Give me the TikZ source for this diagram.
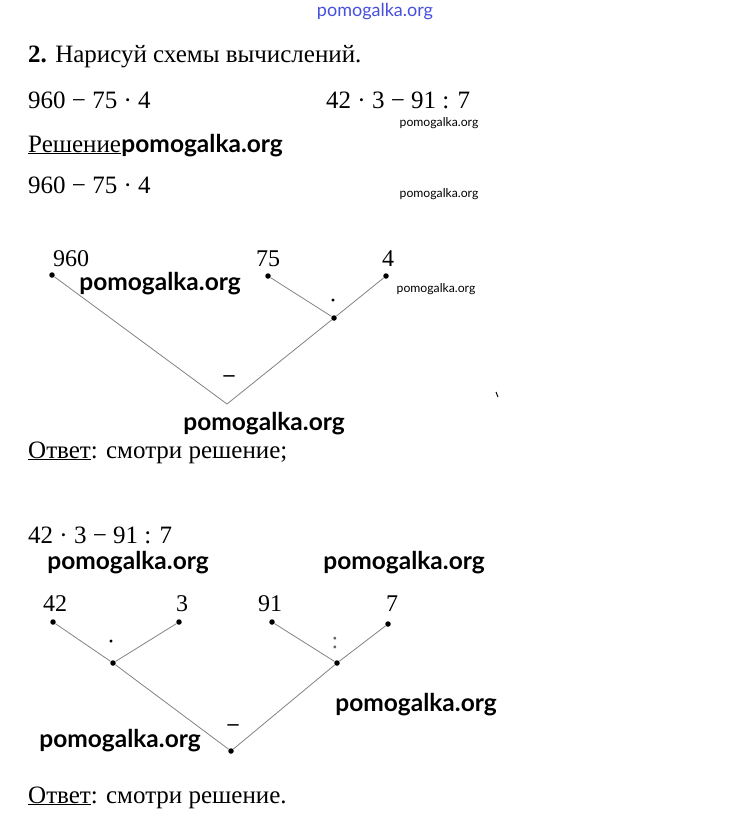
\documentclass[tikz,border=0pt]{standalone}
\usepackage{fontspec}
\setmainfont{Liberation Serif}
\newfontfamily\wmfont{Lato}
\usepackage{xcolor}
\usepackage{tikz}
\usetikzlibrary{positioning}

\definecolor{wmblue}{RGB}{70,80,220}
\definecolor{linegray}{RGB}{130,130,130}

\begin{document}
\begin{tikzpicture}[
    x=1pt, y=-1pt,
    txt/.style={anchor=base west, inner sep=0pt, font=\fontsize{25}{28}\selectfont},
    num/.style={inner sep=0pt, font=\fontsize{24}{26}\selectfont},
    dot/.style={circle, fill=black, inner sep=0pt, minimum size=5.5pt},
    op/.style={inner sep=0pt, font=\fontsize{24}{26}\selectfont},
    minus/.style={inner sep=0pt, font=\bfseries\fontsize{22}{26}\selectfont},
    edge/.style={draw=linegray, line width=0.8pt},
    wmbig/.style={inner sep=0pt, font=\wmfont\bfseries\fontsize{24.5}{27}\selectfont},
    wmsmall/.style={inner sep=0pt, font=\wmfont\fontsize{12.2}{14}\selectfont}
]
\useasboundingbox (0,0) rectangle (749,825);

% header
\node (site) [inner sep=0pt, text=wmblue, font=\wmfont\fontsize{18}{20}\selectfont] at (375,12) {pomogalka.org};
\node (task) [txt] at (28,62) {\textbf{2.} Нарисуй схемы вычислений.};
\node (expr1) [txt] at (28,108) {960 − 75 · 4};
\node (expr2) [txt] at (326,108) {42 · 3 − 91 : 7};
\node (wm1) [wmsmall] at (439,123) {pomogalka.org};
\node (sol) [txt] at (28,152) {\underline{Решение}};
\node (wm2) [wmbig, anchor=base west] at (sol.base east) {pomogalka.org};
\node (expr3) [txt] at (28,193) {960 − 75 · 4};
\node (wm3) [wmsmall] at (439,194) {pomogalka.org};

% first scheme
\node (a960) [dot] at (52,275) {};
\node (a75) [dot] at (268,276) {};
\node (a4) [dot] at (386,276) {};
\node (amul) [dot] at (334,318) {};
\coordinate (amin) at (227,404);

\node (l960) [num] at (71,259) {960};
\node (l75) [num] at (268,259) {75};
\node (l4) [num] at (388,259) {4};
\node (lamul) [op] at (333,304) {·};
\node (lamin) [minus] at (229,379) {–};

\draw [edge] (a960) -- (amin);
\draw [edge] (amin) -- (amul);
\draw [edge] (a75) -- (amul);
\draw [edge] (a4) -- (amul);

\node (wm4) [wmbig] at (160,284) {pomogalka.org};
\node (wm5) [wmsmall] at (436,289) {pomogalka.org};
\node (wm6) [wmbig] at (264,424) {pomogalka.org};
\draw [line width=1pt] (496,392) -- (498,397);

\node (ans1) [txt] at (28,458) {\underline{Ответ}: смотри решение;};

% second scheme
\node (expr4) [txt] at (28,543) {42 · 3 − 91 : 7};
\node (wm7) [wmbig] at (128,563) {pomogalka.org};
\node (wm8) [wmbig] at (404,563) {pomogalka.org};

\node (b42) [dot] at (53,622) {};
\node (b3) [dot] at (179,622) {};
\node (b91) [dot] at (272,622) {};
\node (b7) [dot] at (388,624) {};
\node (bmul) [dot] at (113,663) {};
\node (bdiv) [dot] at (337,663) {};
\node (bmin) [dot] at (231,751) {};

\node (l42) [num] at (55,604) {42};
\node (l3) [num] at (182,604) {3};
\node (l91) [num] at (270,604) {91};
\node (l7) [num] at (392,604) {7};
\node (lbmul) [op] at (111,645) {·};
\node (lbdiv) [op, text=black!60] at (335,643) {:};
\node (lbmin) [minus] at (233,728) {–};

\draw [edge] (b42) -- (bmul);
\draw [edge] (b3) -- (bmul);
\draw [edge] (bmul) -- (bmin);
\draw [edge] (b91) -- (bdiv);
\draw [edge] (b7) -- (bdiv);
\draw [edge] (bdiv) -- (bmin);

\node (wm9) [wmbig] at (416,705) {pomogalka.org};
\node (wm10) [wmbig] at (120,741) {pomogalka.org};

\node (ans2) [txt] at (28,803) {\underline{Ответ}: смотри решение.};

\end{tikzpicture}
\end{document}
